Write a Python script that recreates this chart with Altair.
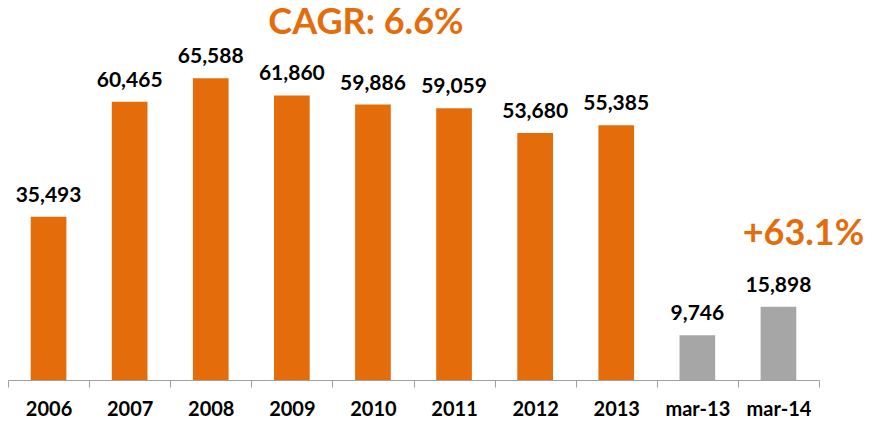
import altair as alt
import pandas as pd

categories = ["2006", "2007", "2008", "2009", "2010", "2011", "2012", "2013", "mar-13", "mar-14"]
values = [35493, 60465, 65588, 61860, 59886, 59059, 53680, 55385, 9746, 15898]
groups = ["annual"] * 8 + ["quarter"] * 2

note_cats = ["2010", "mar-14"]
note_texts = ["CAGR: 6.6%", "+63.1%"]

df = pd.DataFrame({"cat": categories, "value": values, "group": groups})
notes = pd.DataFrame({"cat": note_cats, "text": note_texts})

FONT = "Lato"
x = alt.X("cat:N", sort=categories, title=None,
          scale=alt.Scale(paddingInner=0, paddingOuter=0),
          axis=alt.Axis(labelAngle=0, labelFontSize=20, labelFontWeight="bold", labelFont=FONT,
                        labelColor="#000000", labelPadding=12, tickBand="extent", tickSize=7,
                        tickColor="#A0A0A0", domainColor="#A0A0A0", grid=False))
y = alt.Y("value:Q", scale=alt.Scale(domain=[0, 80870]), axis=None)

base = alt.Chart(df)
bars = base.mark_bar(width=alt.RelativeBandSize(0.44)).encode(
    x=x, y=y,
    color=alt.Color("group:N", scale=alt.Scale(domain=["annual", "quarter"], range=["#E46C0A", "#A6A6A6"]), legend=None),
)
labels = base.mark_text(baseline="alphabetic", dy=-15, fontSize=21, fontWeight="bold", font=FONT, color="#000000").encode(
    x=x, y=y, text=alt.Text("value:Q", format=",d"))

note1 = alt.Chart(notes.iloc[[0]]).mark_text(fontSize=36, fontWeight="bold", font=FONT, color="#E46C0A", dx=-7, baseline="alphabetic").encode(
    x=x, y=alt.value(26), text="text:N")
note2 = alt.Chart(notes.iloc[[1]]).mark_text(fontSize=36, fontWeight="bold", font=FONT, color="#E46C0A", dx=25, baseline="alphabetic").encode(
    x=x, y=alt.value(237), text="text:N")

chart = alt.layer(bars, labels, note1, note2).properties(
    width=811, height=372,
    padding={"left": 0, "top": 0, "right": 46, "bottom": 42},
    autosize=alt.AutoSizeParams(type="none"),
).configure(background="white").configure_view(stroke=None)

chart.save("out.html", embed_options={"renderer": "svg", "actions": False})
